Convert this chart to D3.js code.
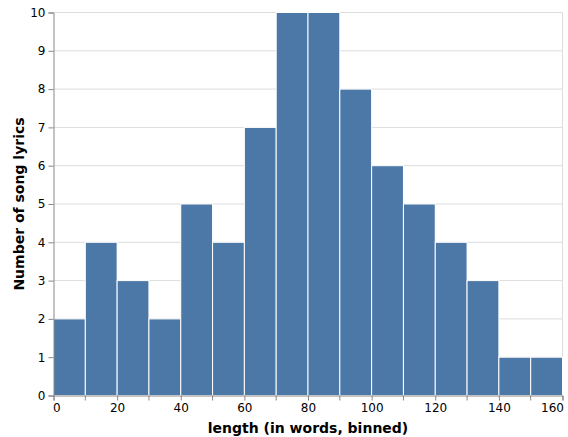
<!DOCTYPE html>
<html>
<head>
<meta charset="utf-8">
<script src="https://cdn.jsdelivr.net/npm/d3@7"></script>
<style>
  body { margin: 0; background: #fff; }
  text { font-family: "DejaVu Sans", sans-serif; }
</style>
</head>
<body>
<svg width="568" height="437"></svg>
<script>
// bin starts (words) and counts
var binStart = [0, 10, 20, 30, 40, 50, 60, 70, 80, 90, 100, 110, 120, 130, 140, 150];
var counts   = [2, 4, 3, 2, 5, 4, 7, 10, 10, 8, 6, 5, 4, 3, 1, 1];
var xTicks = [0, 20, 40, 60, 80, 100, 120, 140, 160];
var yTicks = [0, 1, 2, 3, 4, 5, 6, 7, 8, 9, 10];

var svg = d3.select("svg");
var mLeft = 53.5, mTop = 12.5, w = 509, h = 383;

var x = d3.scaleLinear().domain([0, 160]).range([0, w]);
var y = d3.scaleLinear().domain([0, 10]).range([h, 0]);

var g = svg.append("g").attr("transform", "translate(" + mLeft + "," + mTop + ")");

// grid
g.selectAll(".grid").data(yTicks).enter().append("line")
    .attr("x1", 0).attr("x2", w)
    .attr("y1", function(d) { return y(d); })
    .attr("y2", function(d) { return y(d); })
    .attr("stroke", "#ddd");
g.append("line").attr("x1", w).attr("x2", w).attr("y1", 0).attr("y2", h).attr("stroke", "#ddd");

// bars
g.selectAll(".bar").data(binStart).enter().append("rect")
    .attr("x", function(d) { return x(d); })
    .attr("width", function(d) { return x(d + 10) - x(d); })
    .attr("y", function(d, i) { return y(counts[i]); })
    .attr("height", function(d, i) { return h - y(counts[i]); })
    .attr("fill", "#4c78a8")
    .attr("stroke", "#fff")
    .attr("stroke-width", 1);

// axes
var xAxis = g.append("g").attr("transform", "translate(0," + h + ")")
    .call(d3.axisBottom(x).tickValues(xTicks).tickSize(5).tickPadding(3));
var yAxis = g.append("g")
    .call(d3.axisLeft(y).tickValues(yTicks).tickSize(5).tickPadding(3));
[xAxis, yAxis].forEach(function(a) {
    a.selectAll("path, line").attr("stroke", "#888");
    a.selectAll("text").attr("fill", "#000").style("font-size", "12px")
        .style("font-family", "DejaVu Sans, sans-serif");
});
// flush the end labels like vega does
xAxis.selectAll(".tick text")
    .attr("text-anchor", function(d) { return d === 0 ? "start" : d === 160 ? "end" : "middle"; })
    .attr("dx", function(d) { return d === 0 ? "-1" : d === 160 ? "1" : "0"; });
// ticks at odd bin edges too
g.append("g").attr("transform", "translate(0," + h + ")")
    .selectAll("line").data(binStart.filter(function(d) { return d % 20 === 10; })).enter().append("line")
    .attr("x1", function(d) { return x(d); }).attr("x2", function(d) { return x(d); })
    .attr("y1", 0).attr("y2", 5).attr("stroke", "#888");

svg.append("text")
    .attr("x", mLeft + w / 2).attr("y", 433)
    .attr("text-anchor", "middle")
    .style("font-size", "14px").style("font-weight", "bold")
    .text("length (in words, binned)");
svg.append("text")
    .attr("transform", "translate(24," + (mTop + h / 2) + ") rotate(-90)")
    .attr("text-anchor", "middle")
    .style("font-size", "14px").style("font-weight", "bold")
    .text("Number of song lyrics");
</script>
</body>
</html>
